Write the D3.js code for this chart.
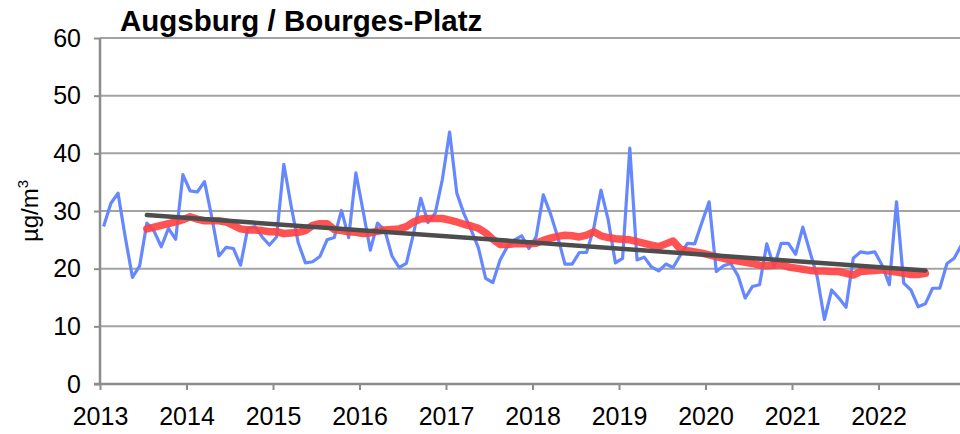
<!DOCTYPE html>
<html><head><meta charset="utf-8">
<script src="https://cdn.jsdelivr.net/npm/d3@7"></script>
<style>
html,body{margin:0;padding:0;background:#fff;}
text{font-family:"Liberation Sans",Arial,sans-serif;}
</style></head>
<body>
<svg id="chart" width="960" height="434"></svg>
<script>
const title = "Augsburg / Bourges-Platz";
const yTicks = [0,10,20,30,40,50,60];
const xTickYears = [2013,2014,2015,2016,2017,2018,2019,2020,2021,2022];
const startYear = 2013;
// monthly means Jan 2013 .. Dec 2022
const monthlyValues = [
 27.3,31.3,33.1,25.5,18.5,20.5,27.9,26.5,23.8,27.0,25.1,36.3,
 33.5,33.3,35.1,29.0,22.2,23.7,23.5,20.6,27.0,27.3,25.5,24.1,
 25.5,38.1,31.0,24.5,21.0,21.2,22.1,25.0,25.4,30.1,25.4,36.6,
 30.0,23.2,27.9,26.7,22.2,20.2,20.9,26.1,32.2,28.0,29.6,35.5,
 43.7,33.1,29.5,26.7,23.6,18.3,17.6,21.5,23.8,25.0,25.7,23.5,
 25.5,32.8,29.5,25.5,20.8,20.8,22.8,22.8,27.0,33.6,28.5,21.0,
 21.8,40.9,21.5,22.0,20.3,19.6,20.8,20.2,22.3,24.4,24.3,28.0,
 31.6,19.5,20.5,20.9,18.8,14.9,16.9,17.2,24.3,20.3,24.4,24.4,
 22.5,27.2,22.9,18.6,11.2,16.3,14.9,13.3,21.8,22.9,22.7,22.9,
 20.6,17.2,31.6,17.5,16.3,13.4,13.9,16.6,16.6,20.9,21.8,24.1
];
// running mean, first value at month index 6 (Jul 2013)
const runningStartIndex = 6;
const runningMean = [
 26.9,27.2,27.5,27.8,28.1,28.5,
 29.0,28.6,28.3,28.3,28.3,28.1,27.5,26.9,26.7,26.7,26.6,26.4,
 26.4,26.1,26.2,26.3,26.6,27.5,27.8,27.8,26.8,26.6,26.4,26.3,
 26.1,26.2,26.5,26.7,26.8,26.9,27.3,28.1,28.6,28.7,28.7,28.7,
 28.4,28.1,27.7,27.4,27.0,26.2,25.1,24.2,24.2,24.3,24.3,24.3,
 24.4,24.9,25.3,25.6,25.8,25.7,25.5,25.8,26.4,25.7,25.4,25.2,
 25.1,25.0,24.7,24.4,24.1,23.8,24.3,24.8,23.4,23.1,22.9,22.7,
 22.4,22.1,21.8,21.5,21.3,21.1,20.9,20.6,20.5,20.6,20.7,20.3,
 20.1,19.9,19.7,19.6,19.6,19.5,19.5,19.2,18.9,19.5,19.6,19.7,
 19.8,19.6,19.4,19.2,19.0,19.0,19.2
];
// linear trend endpoints (month index, value)
const trendMonths = [6, 114];
const trendValues = [29.3, 19.7];

const svg = d3.select("#chart");
const x = d3.scaleLinear().domain([2013, 2023]).range([100, 965]);
const y = d3.scaleLinear().domain([0, 60]).range([384, 38]);
const mx = i => x(startYear + (i + 0.5) / 12);

const gridColor = "#a3a3a3";
// gridlines
svg.append("g").selectAll("line").data(yTicks.filter(d => d > 0)).join("line")
  .attr("x1", 100).attr("x2", 960)
  .attr("y1", d => y(d)).attr("y2", d => y(d))
  .attr("stroke", gridColor).attr("stroke-width", 2);

// axes
const yAxis = svg.append("g").attr("transform", "translate(100,0)")
  .call(d3.axisLeft(y).tickValues(yTicks).tickSize(6).tickPadding(13));
yAxis.select(".domain").attr("stroke", "#8c8c8c").attr("stroke-width", 2.5)
  .attr("d", `M0,${y(60)}V${y(0)}`);
yAxis.selectAll(".tick line").attr("stroke", "#8c8c8c").attr("stroke-width", 2);
yAxis.selectAll(".tick text").attr("font-size", 25).attr("fill", "#000");

const xAxis = svg.append("g").attr("transform", `translate(0,${y(0)})`)
  .call(d3.axisBottom(x).tickValues(xTickYears).tickFormat(d3.format("d")).tickSize(6).tickPadding(17));
xAxis.select(".domain").attr("stroke", "#8c8c8c").attr("stroke-width", 2.5)
  .attr("d", `M94,0H960`);
xAxis.selectAll(".tick line").attr("stroke", "#8c8c8c").attr("stroke-width", 2);
xAxis.selectAll(".tick text").attr("font-size", 25).attr("fill", "#000");

// monthly line
const line = d3.line().x(d => mx(d.i)).y(d => y(d.v));
svg.append("path")
  .datum(monthlyValues.map((v, i) => ({i, v})))
  .attr("d", line).attr("fill", "none")
  .attr("stroke", "#6688ff").attr("stroke-width", 3.2).attr("stroke-linejoin", "round");

// running mean
svg.append("path")
  .datum(runningMean.map((v, k) => ({i: k + runningStartIndex, v})))
  .attr("d", line).attr("fill", "none")
  .attr("stroke", "#ff4040").attr("stroke-opacity", 0.9).attr("stroke-width", 7.5)
  .attr("stroke-linejoin", "round").attr("stroke-linecap", "round");

// trend
svg.append("path")
  .datum(trendMonths.map((m, k) => ({i: m, v: trendValues[k]})))
  .attr("d", line).attr("fill", "none")
  .attr("stroke", "#4d4d4d").attr("stroke-width", 4.5).attr("stroke-linecap", "round");

// title
svg.append("text").attr("x", 120).attr("y", 31)
  .attr("font-size", 29.5).attr("font-weight", "bold").attr("fill", "#000").text(title);

// y label
const yl = svg.append("text").attr("transform", "translate(38,211) rotate(-90)")
  .attr("text-anchor", "middle").attr("font-size", 24).attr("fill", "#000");
yl.append("tspan").text("µg/m");
yl.append("tspan").attr("font-size", 15).attr("dy", -10).text("3");
</script>
</body></html>
